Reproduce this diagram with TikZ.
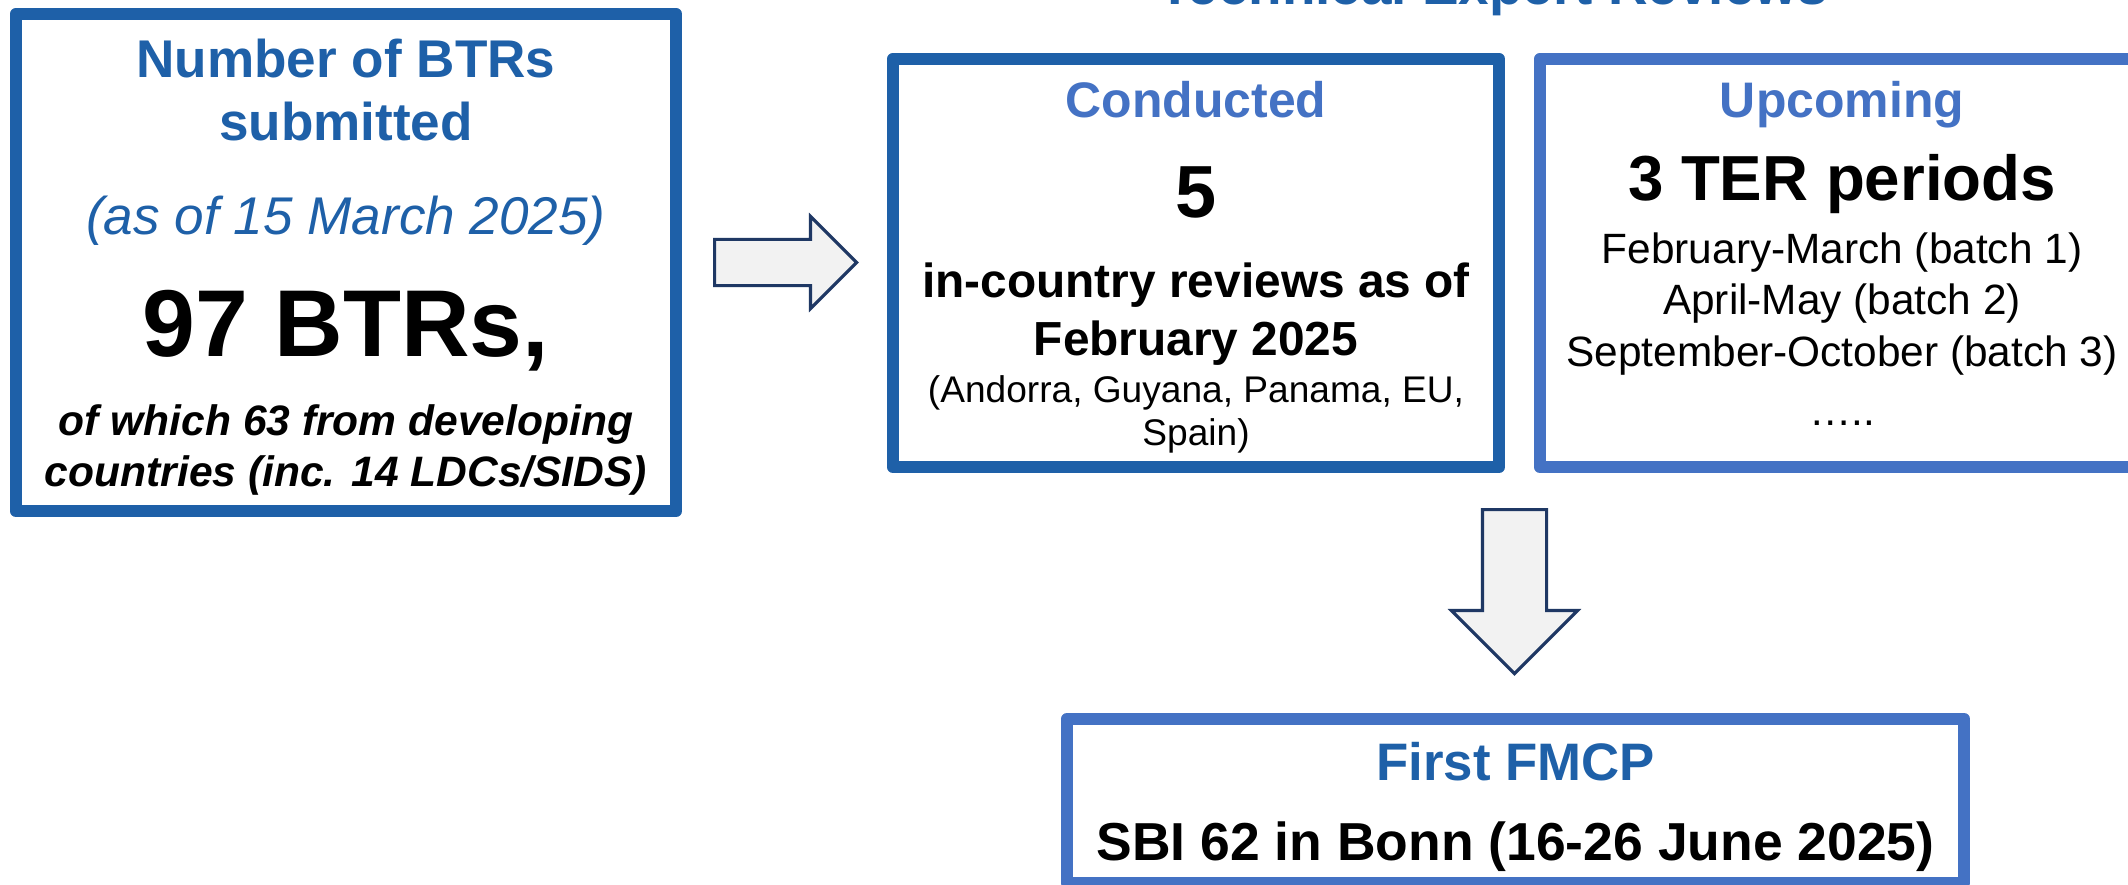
\documentclass[tikz,border=0pt]{standalone}
\usepackage{fontspec}
\setmainfont{Liberation Sans}
\usetikzlibrary{shapes.arrows}
\definecolor{btrblue}{RGB}{30,96,168}
\definecolor{terblue}{RGB}{68,114,196}
\definecolor{arrowline}{RGB}{31,56,100}
\definecolor{arrowfill}{RGB}{242,242,242}
\newcommand{\fsz}[1]{\fontsize{#1}{#1}\selectfont}

\begin{document}
\begin{tikzpicture}[x=0.01cm, y=-0.01cm,
    box/.style={draw, line width=0.125cm, line join=round, inner sep=0pt},
    txt/.style={anchor=base, inner sep=0pt},
    blockarrow/.style={single arrow, draw=arrowline, fill=arrowfill, line width=0.9pt,
      inner xsep=0pt, single arrow head extend=#1, anchor=tail}]
  \useasboundingbox (0,0) rectangle (2128,884);
  \clip (0,0) rectangle (2128,884);
  \fill[white] (0,0) rectangle (2128,884);

  % heading (mostly above the page)
  \node[txt, text=btrblue, font=\fsz{15.6pt}\bfseries] (head) at (1493,4) {Technical Expert Reviews};

  % BTRs submitted
  \node[box, draw=btrblue, minimum width=6.595cm, minimum height=4.965cm] (btr) at (346,262.5) {};
  \node[txt, text=btrblue, font=\fsz{15.1pt}\bfseries] (btrtitle) at (346,77) {Number of BTRs};
  \node[txt, text=btrblue, font=\fsz{15.1pt}\bfseries] (btrtitleb) at (346,140) {submitted};
  \node[txt, text=btrblue, font=\fsz{15.1pt}\itshape] (asof) at (346,234) {(as of 15 March 2025)};
  \node[txt, font=\fsz{27pt}\bfseries] (btrcount) at (346,356) {97 BTRs,};
  \node[txt, font=\fsz{12.1pt}\bfseries\itshape] (dev) at (346,435) {of which 63 from developing};
  \node[txt, font=\fsz{12.1pt}\bfseries\itshape] (devb) at (346,486) {countries (inc. 14 LDCs/SIDS)};

  % TERs conducted
  \node[box, draw=btrblue, minimum width=6.055cm, minimum height=4.075cm] (done) at (1196,263) {};
  \node[txt, text=terblue, font=\fsz{14.2pt}\bfseries] (donetitle) at (1196,117) {Conducted};
  \node[txt, font=\fsz{21pt}\bfseries] (donecount) at (1196,217) {5};
  \node[txt, font=\fsz{13.6pt}\bfseries] (donetext) at (1196,297) {in-country reviews as of};
  \node[txt, font=\fsz{13.6pt}\bfseries] (donetextb) at (1196,355) {February 2025};
  \node[txt, font=\fsz{10.55pt}] (donelist) at (1196,402) {(Andorra, Guyana, Panama, EU,};
  \node[txt, font=\fsz{10.55pt}] (donelistb) at (1196,445) {Spain)};

  % TERs upcoming
  \node[box, draw=terblue, minimum width=6.035cm, minimum height=4.075cm] (next) at (1842,263) {};
  \node[txt, text=terblue, font=\fsz{14.2pt}\bfseries] (nexttitle) at (1842,117) {Upcoming};
  \node[txt, font=\fsz{18.1pt}\bfseries] (nextcount) at (1842,200) {3 TER periods};
  \node[txt, font=\fsz{12.05pt}] (batcha) at (1842,263) {February-March (batch 1)};
  \node[txt, font=\fsz{12.05pt}] (batchb) at (1842,314) {April-May (batch 2)};
  \node[txt, font=\fsz{12.05pt}] (batchc) at (1842,366) {September-October (batch 3)};
  \node[txt, font=\fsz{12.05pt}] (batchd) at (1842,425) {…..};

  % first FMCP
  \node[box, draw=terblue, minimum width=8.965cm, minimum height=1.635cm] (fmcp) at (1515.5,801) {};
  \node[txt, text=btrblue, font=\fsz{15pt}\bfseries] (fmcptitle) at (1515.5,780) {First FMCP};
  \node[txt, font=\fsz{15.2pt}\bfseries] (fmcptext) at (1515.5,860) {SBI 62 in Bonn (16-26 June 2025)};

  % block arrows
  \node[blockarrow=0.23cm, inner ysep=0.215cm, minimum height=1.42cm] (toter) at (713,262.5) {};
  \node[blockarrow=0.31cm, inner ysep=0.305cm, minimum height=1.64cm, rotate=-90] (tofmcp) at (1514.5,508) {};
\end{tikzpicture}
\end{document}
